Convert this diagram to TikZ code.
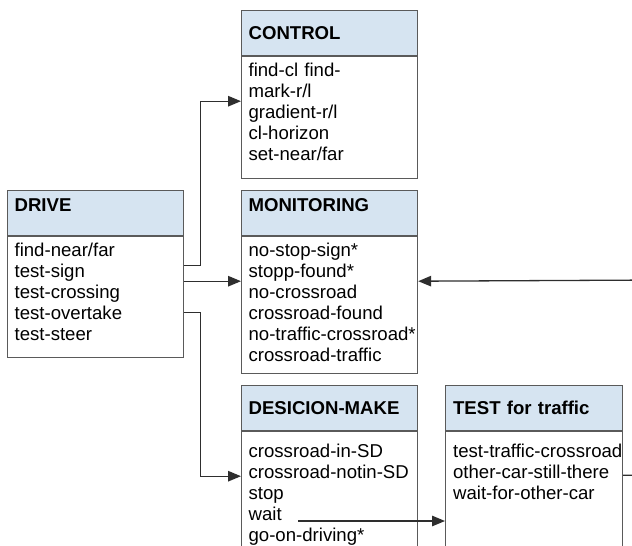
\documentclass[tikz,border=0pt]{standalone}
\usepackage{fontspec}
\setmainfont{Liberation Sans}
\usetikzlibrary{arrows.meta, positioning, calc}
\definecolor{C_HEAD}{HTML}{D6E4F1}
\definecolor{C_EDGE}{HTML}{5A5A5A}
\definecolor{C_LINE}{HTML}{2E2E2E}
\newcommand{\boxfont}{\fontsize{18.6bp}{21bp}\selectfont
  \hyphenpenalty=10000 \exhyphenpenalty=10000}

\begin{document}
\begin{tikzpicture}[
  x=1bp, y=-1bp,
  title/.style={draw=C_EDGE, line width=1.2bp, fill=C_HEAD, anchor=north west,
                minimum width=176bp, minimum height=45bp, inner xsep=7bp,
                text width=162bp, align=left, font=\boxfont\bfseries},
  ops/.style={draw=C_EDGE, line width=1.2bp, fill=white, anchor=north west,
              minimum width=176bp, inner xsep=7bp, inner ysep=6.5bp,
              text width=162bp, align=left, text height=13.5bp, text depth=#1,
              font=\boxfont},
  link/.style={-{Triangle[length=13bp, width=10.5bp]}, line width=1.3bp, color=C_LINE},
]
\useasboundingbox (0,0) rectangle (632,546);

%% DRIVE
\node[title, text depth=16bp] (drive) at (7,190) {DRIVE};
\node[ops=94.5bp] (drive-ops) at (drive.south west)
  {find-near/far\\test-sign\\test-crossing\\test-overtake\\test-steer};

%% CONTROL
\node[title] (control) at (241,10) {CONTROL};
\node[ops=95.5bp] (control-ops) at (control.south west)
  {find-cl find-\\mark-r/l\\gradient-r/l\\cl-horizon\\set-near/far};

%% MONITORING
\node[title, text depth=16bp] (monitor) at (241,190) {MONITORING};
\node[ops=110.5bp] (monitor-ops) at (monitor.south west)
  {no-stop-sign*\\stopp-found*\\no-crossroad\\crossroad-found\\no-traffic-crossroad*\\crossroad-traffic};

%% DESICION-MAKE
\node[title] (decide) at (241,385) {DESICION-MAKE};
\node[ops=117.5bp, text height=19.5bp] (decide-ops) at (decide.south west)
  {crossroad-in-SD\\crossroad-notin-SD\\stop\\wait\\go-on-driving*};

%% TEST for traffic
\node[title, minimum width=177bp] (traffic) at (445,385) {TEST for traffic};
\node[ops=117.5bp, text height=19.5bp, minimum width=177bp] (traffic-ops) at (traffic.south west)
  {test-traffic-crossroad\\other-car-still-there\\wait-for-other-car};

%% free ends
\coordinate (wait) at (298,521);
\coordinate (loop) at (660,280);

%% DRIVE -> others
\draw[link] ([yshift=-29bp]drive-ops.north east) -- ++(16,0)
  |- ([yshift=-45bp]control-ops.north west);
\draw[link] ([yshift=-45bp]drive-ops.north east) -- ([yshift=-45bp]monitor-ops.north west);
\draw[link] ([yshift=-76bp]drive-ops.north east) -- ++(16,0)
  |- ([yshift=-45bp]decide-ops.north west);

%% wait -> TEST, TEST -> MONITORING
\draw[link] (wait) -- (wait -| traffic-ops.west);
\draw[link] ([yshift=-44bp]traffic-ops.north east) -| (loop)
  -- ([yshift=-45bp]monitor-ops.north east);

\end{tikzpicture}
\end{document}
